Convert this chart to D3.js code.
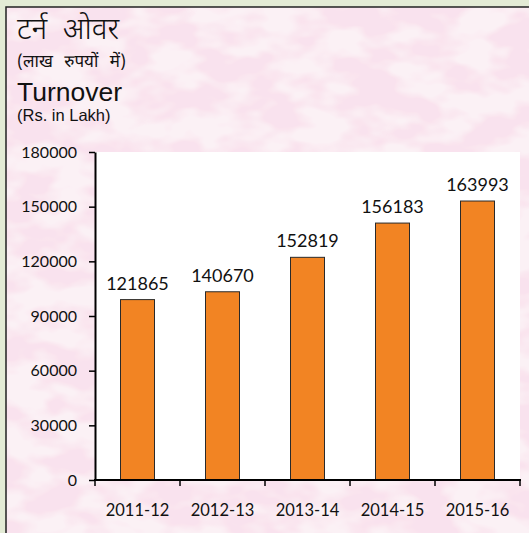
<!DOCTYPE html>
<html>
<head>
<meta charset="utf-8">
<script src="https://cdn.jsdelivr.net/npm/d3@7"></script>
<style>
  html, body { margin: 0; padding: 0; background: #e3ebd5; }
  svg { display: block; }
</style>
</head>
<body>
<div id="chart"></div>
<script>
// values
const years = ['2011-12', '2012-13', '2013-14', '2014-15', '2015-16'];
const barValues = [99000, 103300, 122200, 141000, 153100];   // bar heights as drawn
const labelValues = [121865, 140670, 152819, 156183, 163993]; // numbers printed above bars
const yTicks = [0, 30000, 60000, 90000, 120000, 150000, 180000];

const width = 529, height = 533;
const plot = { left: 95, right: 520, top: 152, bottom: 480 };

const svg = d3.select('#chart').append('svg')
    .attr('width', width)
    .attr('height', height);

// marble-ish pink texture for the panel background
const defs = svg.append('defs');
const filt = defs.append('filter')
    .attr('id', 'marble')
    .attr('x', 0).attr('y', 0).attr('width', '100%').attr('height', '100%');
filt.append('feTurbulence')
    .attr('type', 'fractalNoise')
    .attr('baseFrequency', '0.02 0.035')
    .attr('numOctaves', 3)
    .attr('seed', 7)
    .attr('result', 'noise');
filt.append('feColorMatrix')
    .attr('in', 'noise')
    .attr('type', 'matrix')
    .attr('values', '0 0 0 0 0.95  0 0 0 0 0.76  0 0 0 0 0.85  4.5 0 0 0 -1.7')
    .attr('result', 'pinkish');
filt.append('feComposite')
    .attr('in', 'pinkish')
    .attr('in2', 'SourceGraphic')
    .attr('operator', 'over');

svg.append('rect')
    .attr('x', 6).attr('y', 7)
    .attr('width', width - 6).attr('height', height - 7)
    .attr('fill', '#fbf1f5')
    .attr('filter', 'url(#marble)');

// frame lines (top and left)
svg.append('path')
    .attr('d', `M6,${height} V7 H${width}`)
    .attr('fill', 'none')
    .attr('stroke', '#222')
    .attr('stroke-width', 1.5);

// titles
svg.append('text')
    .attr('x', 17).attr('y', 39)
    .attr('font-family', '"Noto Sans Devanagari", "Noto Sans", sans-serif')
    .attr('font-size', '30px')
    .attr('font-weight', 300)
    .attr('word-spacing', '8px')
    .attr('fill', '#111')
    .text('टर्न ओवर');
svg.append('text')
    .attr('x', 17).attr('y', 67)
    .attr('font-family', '"Noto Sans Devanagari", "Noto Sans", sans-serif')
    .attr('font-size', '17px')
    .attr('word-spacing', '7px')
    .attr('fill', '#111')
    .text('(लाख रुपयों में)');
svg.append('text')
    .attr('x', 17).attr('y', 101)
    .attr('font-family', '"Liberation Sans", Arial, sans-serif')
    .attr('font-size', '26.5px')
    .attr('fill', '#111')
    .text('Turnover');
svg.append('text')
    .attr('x', 17).attr('y', 121)
    .attr('font-family', '"Liberation Sans", Arial, sans-serif')
    .attr('font-size', '16.5px')
    .attr('fill', '#111')
    .text('(Rs. in Lakh)');

// plot area
svg.append('rect')
    .attr('x', plot.left).attr('y', plot.top)
    .attr('width', plot.right - plot.left)
    .attr('height', plot.bottom - plot.top)
    .attr('fill', '#fff');

const x = d3.scaleBand()
    .domain(years)
    .range([plot.left, plot.right])
    .paddingInner(0.6)
    .paddingOuter(0.3);

const y = d3.scaleLinear()
    .domain([0, 180000])
    .range([plot.bottom, plot.top]);

const g = svg.append('g');

g.selectAll('rect.bar')
    .data(years)
    .join('rect')
    .attr('class', 'bar')
    .attr('x', d => x(d))
    .attr('y', (d, i) => y(barValues[i]))
    .attr('width', x.bandwidth())
    .attr('height', (d, i) => y(0) - y(barValues[i]))
    .attr('fill', '#f28423')
    .attr('stroke', '#2a2a2a')
    .attr('stroke-width', 1);

g.selectAll('text.lbl')
    .data(years)
    .join('text')
    .attr('class', 'lbl')
    .attr('x', d => x(d) + x.bandwidth() / 2)
    .attr('y', (d, i) => y(barValues[i]) - 10)
    .attr('text-anchor', 'middle')
    .attr('font-family', 'Lato, sans-serif')
    .attr('font-size', '18px')
    .attr('fill', '#111')
    .text((d, i) => labelValues[i]);

// y axis
const yAxis = d3.axisLeft(y)
    .tickValues(yTicks)
    .tickFormat(d3.format('d'))
    .tickSizeInner(6)
    .tickSizeOuter(0)
    .tickPadding(12);

const ya = svg.append('g')
    .attr('transform', `translate(${plot.left},0)`)
    .call(yAxis);
ya.select('.domain').attr('stroke', '#000').attr('stroke-width', 2);
ya.selectAll('.tick line').attr('stroke', '#000').attr('stroke-width', 1.5);
ya.selectAll('.tick text')
    .attr('font-family', 'Lato, sans-serif')
    .attr('font-size', '16px')
    .attr('fill', '#111');

// x axis: ticks at category boundaries
const xa = svg.append('g')
    .attr('transform', `translate(0,${plot.bottom})`);
xa.append('line')
    .attr('x1', plot.left - 1).attr('x2', plot.right + 1)
    .attr('stroke', '#000').attr('stroke-width', 2);
const bounds = years.map((d, i) => plot.left + i * x.step());
bounds.push(plot.right);
xa.selectAll('line.tk')
    .data(bounds)
    .join('line')
    .attr('class', 'tk')
    .attr('x1', d => d).attr('x2', d => d)
    .attr('y1', 0).attr('y2', 6)
    .attr('stroke', '#000').attr('stroke-width', 1.5);
xa.selectAll('text')
    .data(years)
    .join('text')
    .attr('x', d => x(d) + x.bandwidth() / 2)
    .attr('y', 36)
    .attr('text-anchor', 'middle')
    .attr('font-family', 'Lato, sans-serif')
    .attr('font-size', '16.5px')
    .attr('fill', '#111')
    .text(d => d);
</script>
</body>
</html>
